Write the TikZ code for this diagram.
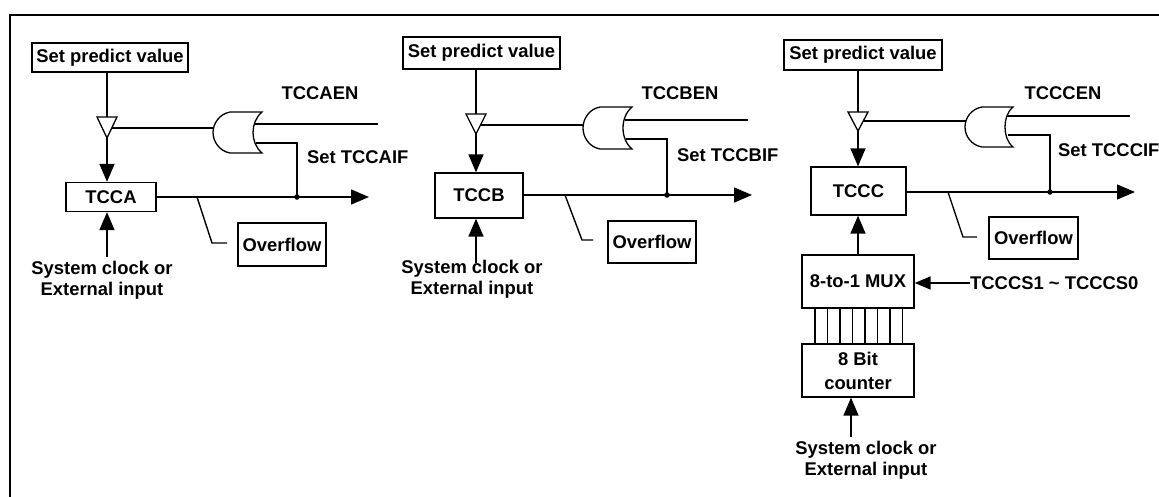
\documentclass[tikz,border=0pt]{standalone}
\usepackage{fontspec}
\setmainfont{Liberation Sans}
\usetikzlibrary{arrows.meta}
\begin{document}
\tikzset{
  txt/.style={font=\fontsize{18.4}{20.5}\selectfont\bfseries, align=center},
  box/.style={txt, draw, line width=1.3pt, inner sep=0pt},
  lbl/.style={txt, inner sep=0pt},
  wire/.style={line width=1.4pt},
  arr/.style={wire, -{Triangle[length=18pt,width=15pt]}},
  sarr/.style={wire, -{Triangle[length=16pt,width=13pt]}},
  gatestyle/.style={draw, line width=1.3pt, fill=white},
  bufstyle/.style={draw, line width=1.3pt, fill=white, line join=miter},
  jdot/.style={circle, fill, inner sep=0pt, minimum size=5.5pt},
}
\begin{tikzpicture}[x=1pt,y=-1pt]
\clip (0,0) rectangle (1159,496);
\fill[white] (0,0) rectangle (1159,496);
% frame
\draw[line width=2.7pt] (10,510) -- (10,15) -- (1170,15);

% ================= Panel A =================
\node[box, minimum width=156pt, minimum height=29pt] (spA) at (110,57.5) {Set predict value};
\coordinate (bA) at (107,117);
\coordinate (apA) at (107,138);
\draw[wire] (spA.south -| bA) -- (bA);
\coordinate (inA) at (107,128);
\coordinate (gAin) at (214,128);
\draw[wire] (inA) -- (gAin);
\draw[bufstyle] (97,117) -- (117,117) -- (apA) -- cycle;
\node[box, minimum width=90pt, minimum height=29pt] (tA) at (111,197) {TCCA};
\draw[arr] (apA) -- (apA |- tA.north);
\draw[gatestyle] (230,112) .. controls (219,114) and (213,124) .. (213,132.5)
  .. controls (213,141) and (219,151) .. (230,153) -- (262,153)
  .. controls (256,148) and (253,140) .. (253,132.5)
  .. controls (253,125) and (256,117) .. (262,112) -- cycle;
\coordinate (enA) at (255,124);
\coordinate (enAend) at (378,124);
\draw[wire] (enA) -- (enAend);
\coordinate (oA) at (256,143);
\node[jdot] (dA) at (297,197) {};
\draw[wire] (oA) -| (dA.center);
\coordinate (outA) at (369,197);
\draw[arr] (tA.east) -- (outA);
\node[box, minimum width=88pt, minimum height=43pt] (ovA) at (282,244.5) {Overflow};
\coordinate (lA1) at (197,197);
\coordinate (lA2) at (212,243);
\coordinate (lA3) at (227,243);
\draw[wire] (lA1) -- (lA2) -- (lA3);
\node[lbl] (scA) at (102,280) {System clock or\\External input};
\draw[arr] (apA |- 0,257) -- (apA |- tA.south);
\node[lbl] (enLA) at (320,93) {TCCAEN};
\node[lbl, anchor=west] (ifA) at (307,157) {Set TCCAIF};

% ================= Panel B =================
\node[box, minimum width=157pt, minimum height=32pt] (spB) at (481.5,53) {Set predict value};
\coordinate (bB) at (476,114);
\coordinate (apB) at (476,134);
\draw[wire] (spB.south -| bB) -- (bB);
\coordinate (inB) at (476,125);
\coordinate (gBin) at (584,125);
\draw[wire] (inB) -- (gBin);
\draw[bufstyle] (466,114) -- (486,114) -- (apB) -- cycle;
\node[box, minimum width=88pt, minimum height=45pt] (tB) at (479,195.5) {TCCB};
\draw[arr] (apB) -- (apB |- tB.north);
\draw[gatestyle] (600,107) .. controls (589,109) and (583,119) .. (583,128)
  .. controls (583,137) and (589,147) .. (600,149) -- (632,149)
  .. controls (626,144) and (623,136) .. (623,128)
  .. controls (623,120) and (626,112) .. (632,107) -- cycle;
\coordinate (enB) at (625,120);
\coordinate (enBend) at (748,120);
\draw[wire] (enB) -- (enBend);
\coordinate (oB) at (626,139);
\node[jdot] (dB) at (667,195) {};
\draw[wire] (oB) -| (dB.center);
\coordinate (outB) at (752,195);
\draw[arr] (tB.east |- dB) -- (outB);
\node[box, minimum width=88pt, minimum height=42pt] (ovB) at (652,242) {Overflow};
\coordinate (lB1) at (565,195);
\coordinate (lB2) at (582,240);
\coordinate (lB3) at (593,240);
\draw[wire] (lB1) -- (lB2) -- (lB3);
\node[lbl] (scB) at (472,279) {System clock or\\External input};
\draw[arr] (apB |- 0,263) -- (apB |- tB.south);
\node[lbl] (enLB) at (680,93) {TCCBEN};
\node[lbl, anchor=west] (ifB) at (677,155) {Set TCCBIF};

% ================= Panel C =================
\node[box, minimum width=158pt, minimum height=30pt] (spC) at (863,55) {Set predict value};
\coordinate (bC) at (858,112);
\coordinate (apC) at (858,131);
\draw[wire] (spC.south -| bC) -- (bC);
\coordinate (inC) at (858,121);
\coordinate (gCin) at (966,121);
\draw[wire] (inC) -- (gCin);
\draw[bufstyle] (848,112) -- (868,112) -- (apC) -- cycle;
\node[box, minimum width=95pt, minimum height=48pt] (tC) at (858.5,191) {TCCC};
\draw[arr] (apC) -- (apC |- tC.north);
\draw[gatestyle] (982,107) .. controls (971,109) and (965,118) .. (965,127)
  .. controls (965,136) and (971,145) .. (982,147) -- (1013,147)
  .. controls (1007,142) and (1005,134) .. (1005,127)
  .. controls (1005,120) and (1007,112) .. (1013,107) -- cycle;
\coordinate (enC) at (1007,116);
\coordinate (enCend) at (1130,116);
\draw[wire] (enC) -- (enCend);
\coordinate (oC) at (1008,135);
\node[jdot] (dC) at (1050,192) {};
\draw[wire] (oC) -| (dC.center);
\coordinate (outC) at (1135,192);
\draw[arr] (tC.east |- dC) -- (outC);
\node[box, minimum width=89pt, minimum height=42pt] (ovC) at (1033.5,238) {Overflow};
\coordinate (lC1) at (948,192);
\coordinate (lC2) at (963,237);
\coordinate (lC3) at (977,237);
\draw[wire] (lC1) -- (lC2) -- (lC3);
% MUX
\node[box, minimum width=112pt, minimum height=53pt] (mux) at (858,281.5) {8-to-1 MUX};
\draw[arr] (mux.north) -- (tC.south -| mux.north);
\node[lbl, anchor=west] (sel) at (970,283) {TCCCS1 \textasciitilde\ TCCCS0};
\draw[sarr] (sel.west) -- (mux.east |- sel.west);
% counter
\node[box, minimum width=112pt, minimum height=53pt, font=\fontsize{18.4}{24}\selectfont\bfseries] (cnt) at (858,370.5) {8 Bit\\counter};
\foreach \xx in {815,827.5,840,852.5,865,877.5,890,902.5}
  \draw[wire] (\xx,0 |- mux.south) -- (\xx,0 |- cnt.north);
\node[lbl] (scC) at (866,460) {System clock or\\External input};
\draw[arr] (851,437) -- (851,0 |- cnt.south);
\node[lbl] (enLC) at (1063,93) {TCCCEN};
\node[lbl, anchor=west] (ifC) at (1058,150) {Set TCCCIF};
\end{tikzpicture}
\end{document}
